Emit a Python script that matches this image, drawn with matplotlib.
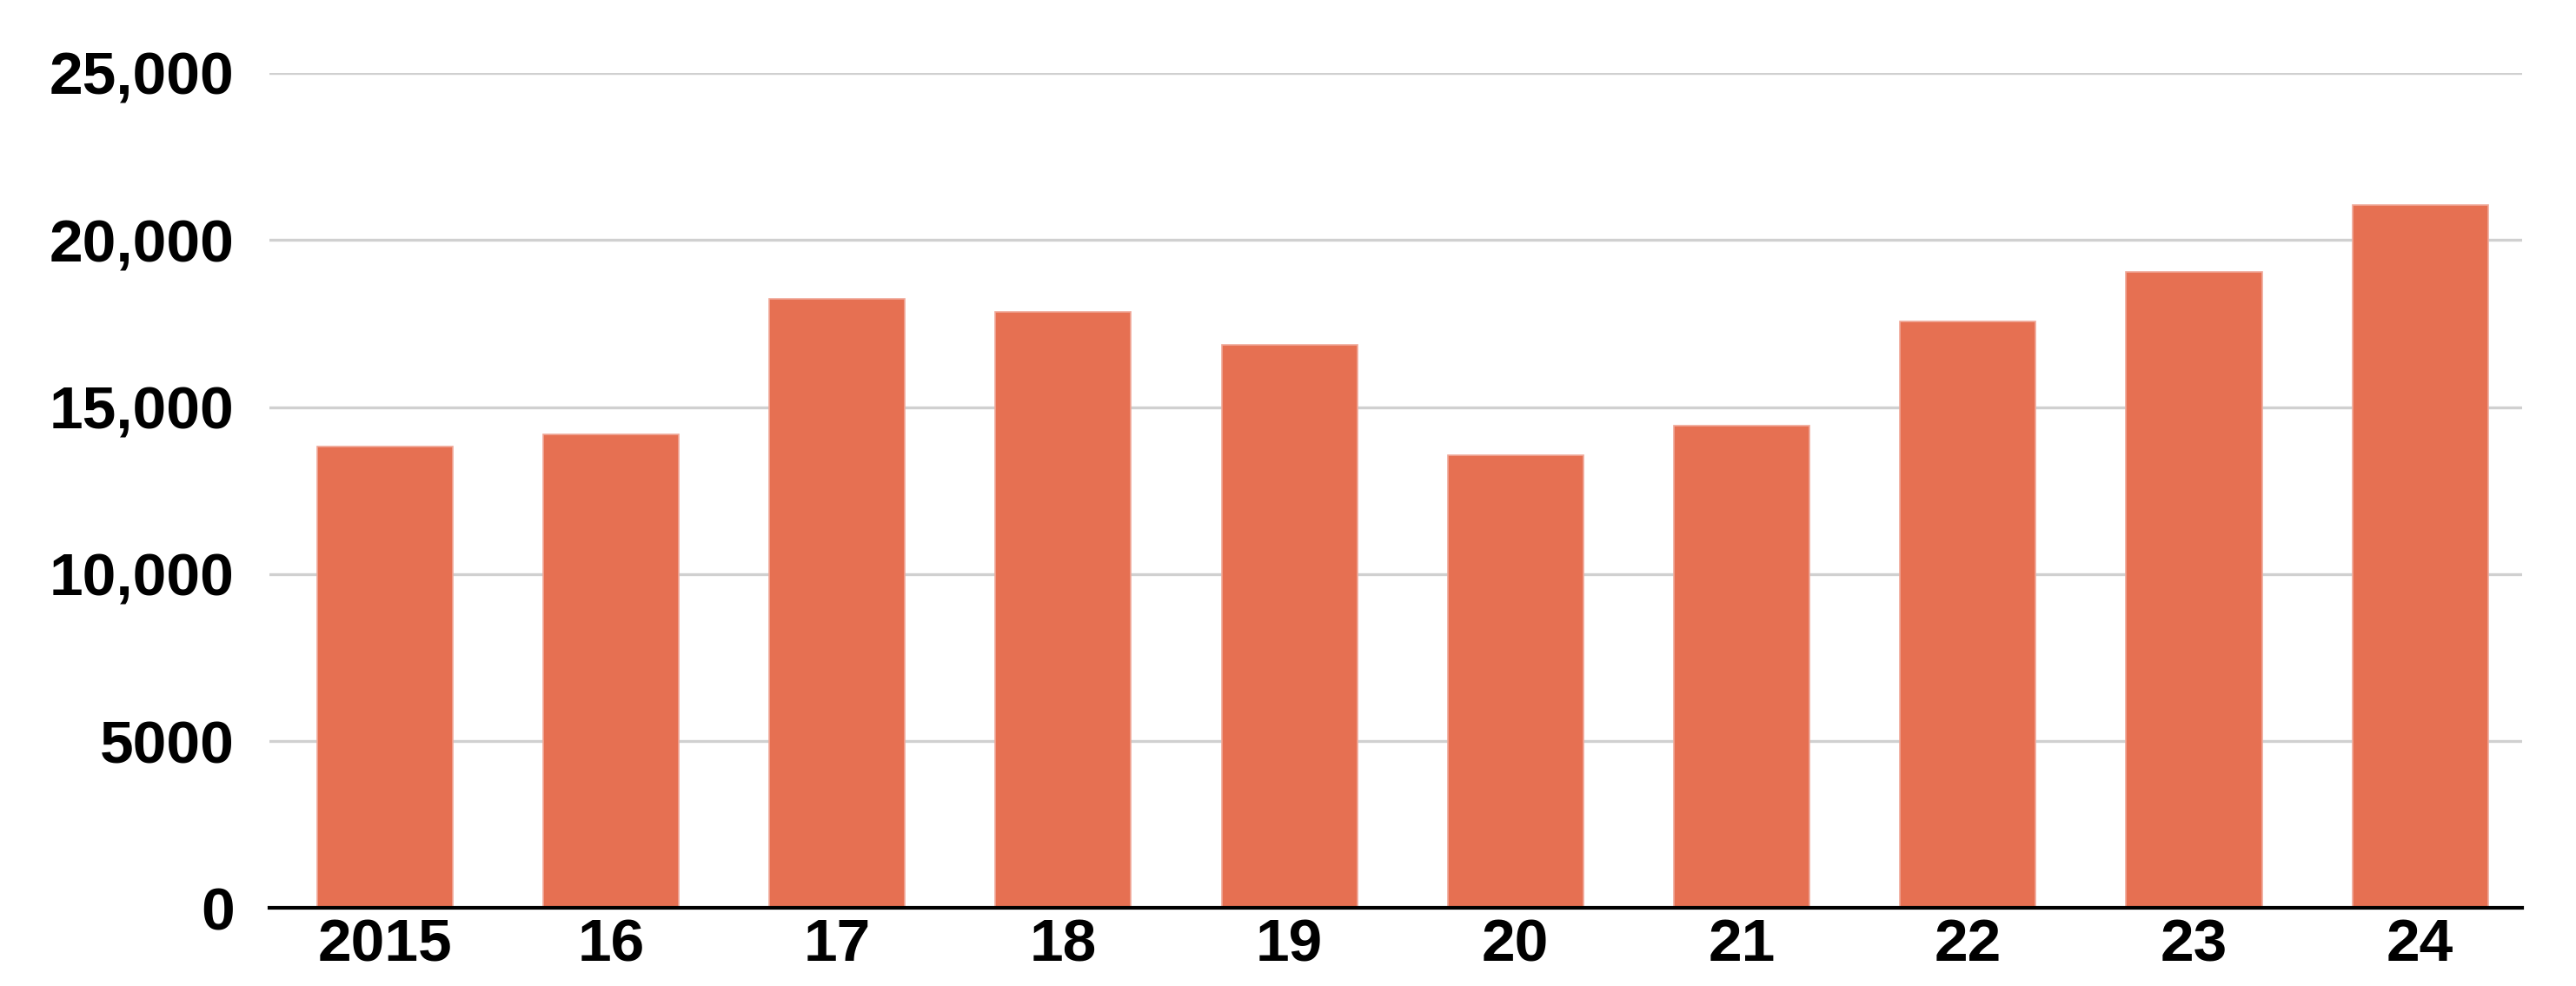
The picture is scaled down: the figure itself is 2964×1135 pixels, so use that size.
import matplotlib.pyplot as plt
import numpy as np

plt.rcParams['font.family'] = ['Liberation Sans', 'DejaVu Sans']

# Data
years = ['2015', '16', '17', '18', '19', '20', '21', '22', '23', '24']
values = [13830, 14170, 18230, 17860, 16860, 13560, 14430, 17560, 19040, 21050]
y_ticks = [0, 5000, 10000, 15000, 20000, 25000]
y_labels = ['0', '5000', '10,000', '15,000', '20,000', '25,000']

fig = plt.figure(figsize=(29.64, 11.35), dpi=100)
ax = fig.add_axes([0.1046, 0.079, 0.8744, 0.847])

x = np.arange(len(years))
ax.bar(x, values, width=0.6, color='#E67052', edgecolor='#F0A898',
       linewidth=1.2, zorder=3)

ax.set_xlim(-0.51, len(years) - 0.55)
ax.set_ylim(0, 25000)
ax.set_yticks(y_ticks)
ax.set_yticklabels(y_labels, fontweight='bold')
ax.set_xticks(x)
ax.set_xticklabels(years, fontweight='bold')

ax.grid(axis='y', color='#d0d0d0', linewidth=2.4, zorder=0)
ax.set_axisbelow(True)
for side in ['top', 'right', 'left']:
    ax.spines[side].set_visible(False)
ax.spines['bottom'].set_color('black')
ax.spines['bottom'].set_linewidth(3)
ax.spines['bottom'].set_zorder(4)

ax.tick_params(axis='y', length=0, pad=29, labelsize=50)
ax.tick_params(axis='x', length=0, pad=8, labelsize=50)

plt.savefig('out.png', dpi=100)
